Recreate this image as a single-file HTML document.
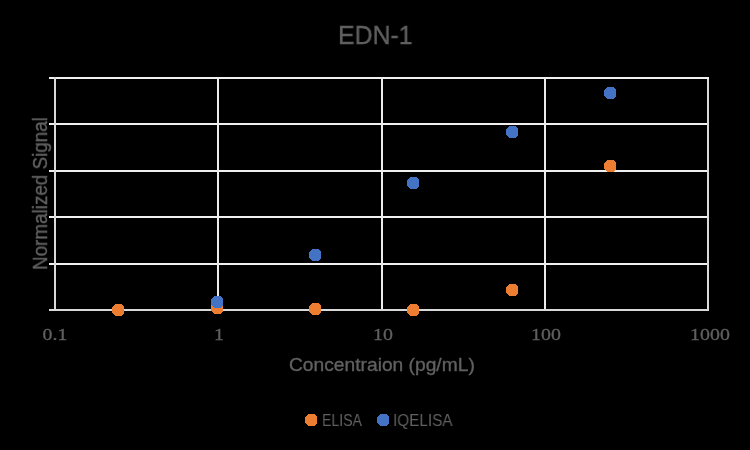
<!DOCTYPE html>
<html>
<head>
<meta charset="utf-8">
<style>
html,body{margin:0;padding:0;background:#000;}
body{width:750px;height:450px;overflow:hidden;position:relative;}
svg{position:absolute;left:0;top:0;}
.t{position:absolute;will-change:transform;-webkit-text-stroke:0.35px #606060;white-space:nowrap;color:#606060;font-family:"Liberation Sans",sans-serif;line-height:1;}
.s{position:absolute;will-change:transform;-webkit-text-stroke:0.3px #606060;white-space:nowrap;color:#606060;font-family:"Liberation Serif",serif;line-height:1;}
.s span{display:inline-block;transform:translateX(-50%) scaleX(1.13);}
</style>
</head>
<body>
<svg width="750" height="450" viewBox="0 0 750 450" shape-rendering="crispEdges">
  <rect x="0" y="0" width="750" height="450" fill="#000"/>
  <!-- horizontal gridlines -->
  <g fill="#F0F0F0">
    <rect x="49" y="77" width="660" height="2"/>
    <rect x="49" y="123" width="660" height="2"/>
    <rect x="49" y="170" width="660" height="2"/>
    <rect x="49" y="216" width="660" height="2"/>
    <rect x="49" y="263" width="660" height="2"/>
  </g>
  <!-- vertical gridlines -->
  <g fill="#ECECEC">
    <rect x="217" y="77" width="2" height="233"/>
    <rect x="381" y="77" width="2" height="233"/>
    <rect x="544" y="77" width="2" height="233"/>
  </g>
  <!-- axes -->
  <g fill="#D9D9D9">
    <rect x="54" y="77" width="2" height="234"/>
    <rect x="707" y="79" width="2" height="230"/>
    <rect x="49" y="309" width="660" height="2"/>
  </g>
</svg>
<svg width="750" height="450" viewBox="0 0 750 450" shape-rendering="crispEdges">
  <!-- ELISA -->
  <g fill="#ED7D31">
    <polygon points="115,304 121,304 124,307 124,313 121,316 115,316 112,313 112,307"/>
    <polygon points="214,302 220,302 223,305 223,311 220,314 214,314 211,311 211,305"/>
    <polygon points="312,303 318,303 321,306 321,312 318,315 312,315 309,312 309,306"/>
    <polygon points="410,304 416,304 419,307 419,313 416,316 410,316 407,313 407,307"/>
    <polygon points="509,284 515,284 518,287 518,293 515,296 509,296 506,293 506,287"/>
    <polygon points="607,160 613,160 616,163 616,169 613,172 607,172 604,169 604,163"/>
  </g>
  <!-- IQELISA -->
  <g fill="#4472C4">
    <polygon points="214,296 220,296 223,299 223,305 220,308 214,308 211,305 211,299"/>
    <polygon points="312,249 318,249 321,252 321,258 318,261 312,261 309,258 309,252"/>
    <polygon points="410,177 416,177 419,180 419,186 416,189 410,189 407,186 407,180"/>
    <polygon points="509,126 515,126 518,129 518,135 515,138 509,138 506,135 506,129"/>
    <polygon points="607,87 613,87 616,90 616,96 613,99 607,99 604,96 604,90"/>
  </g>
  <!-- legend markers -->
  <polygon points="308,414 314,414 317,417 317,423 314,426 308,426 305,423 305,417" fill="#ED7D31"/>
  <polygon points="380,414 386,414 389,417 389,423 386,426 380,426 377,423 377,417" fill="#4472C4"/>
</svg>

<div class="t" id="title" style="left:338.2px;top:23px;font-size:25.5px;transform-origin:0 0;transform:scaleX(0.975);">EDN-1</div>

<div class="s" id="x01" style="left:54.5px;top:326px;font-size:17.6px;"><span>0.1</span></div>
<div class="s" id="x1" style="left:219px;top:326px;font-size:17.6px;"><span>1</span></div>
<div class="s" id="x10" style="left:382.5px;top:326px;font-size:17.6px;"><span>10</span></div>
<div class="s" id="x100" style="left:545.5px;top:326px;font-size:17.6px;"><span>100</span></div>
<div class="s" id="x1000" style="left:709.5px;top:326px;font-size:17.6px;"><span>1000</span></div>

<div class="t" id="xt" style="left:289px;top:355px;font-size:19px;transform-origin:0 0;transform:scaleX(1.011);">Concentraion (pg/mL)</div>

<div class="t" id="yt" style="left:30px;top:269.7px;font-size:20px;transform-origin:0 0;transform:rotate(-90deg) scaleX(0.942);">Normalized Signal</div>

<div class="t" id="l1" style="-webkit-text-stroke:0;left:322px;top:412px;font-size:17px;transform-origin:0 0;transform:scaleX(0.83);">ELISA</div>
<div class="t" id="l2" style="-webkit-text-stroke:0;left:393px;top:412px;font-size:17px;transform-origin:0 0;transform:scaleX(0.9);">IQELISA</div>
</body>
</html>
